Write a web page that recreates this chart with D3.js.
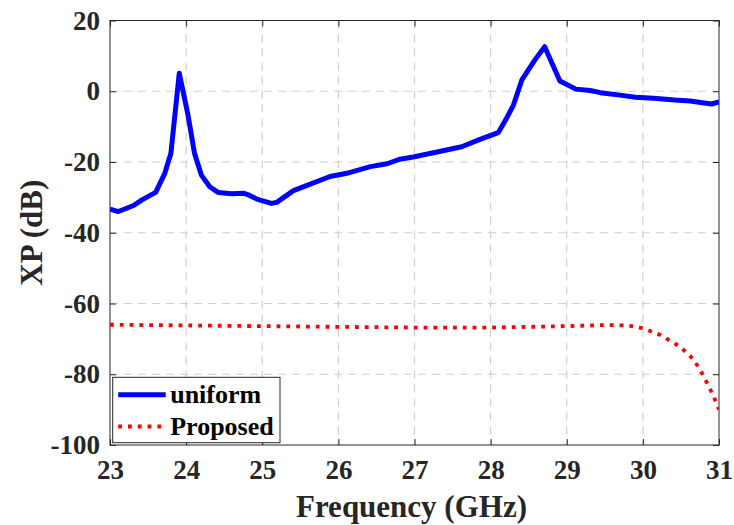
<!DOCTYPE html>
<html>
<head>
<meta charset="utf-8">
<script src="https://cdn.jsdelivr.net/npm/d3@7"></script>
<style>
  body { margin: 0; background: #fff; }
</style>
</head>
<body>
<svg id="chart" width="734" height="525"></svg>
<script>
// Uniform array curve
const uniformFreq = [23.0, 23.11, 23.31, 23.42, 23.6, 23.72, 23.8, 23.91, 24.02, 24.11, 24.2, 24.31, 24.42, 24.6, 24.75, 24.82, 24.93, 25.12, 25.19, 25.41, 25.58, 25.89, 26.11, 26.42, 26.64, 26.81, 27.0, 27.42, 27.62, 27.86, 28.1, 28.2, 28.3, 28.41, 28.58, 28.71, 28.91, 29.12, 29.31, 29.44, 29.7, 29.9, 30.14, 30.42, 30.62, 30.9, 31.0];
const uniformXP = [-33.3, -34.0, -32.3, -30.7, -28.6, -23.2, -17.5, 5.1, -6.2, -17.5, -23.7, -27.0, -28.6, -29.0, -28.8, -29.3, -30.5, -31.7, -31.4, -28.1, -26.7, -24.1, -23.2, -21.3, -20.5, -19.2, -18.5, -16.6, -15.7, -13.6, -11.7, -8.0, -3.9, 3.2, 8.8, 12.6, 2.9, 0.6, 0.2, -0.4, -1.1, -1.7, -2.0, -2.5, -2.75, -3.6, -3.0];

// Proposed design curve
const proposedFreq = [23.0, 24.0, 25.0, 26.0, 27.0, 28.0, 29.0, 29.5, 29.8, 30.0, 30.23, 30.49, 30.67, 30.8, 30.93, 31.0];
const proposedXP = [-66.0, -66.2, -66.4, -66.6, -66.8, -66.8, -66.4, -66.1, -66.2, -67.0, -68.9, -72.2, -75.9, -80.6, -86.3, -90.0];

const xTicks = [23, 24, 25, 26, 27, 28, 29, 30, 31];
const yTicks = [-100, -80, -60, -40, -20, 0, 20];

const FONT = "'Times New Roman', 'Liberation Serif', Tinos, serif";

function drawChart() {
  const margin = { top: 20.5, right: 15, bottom: 80, left: 110 };
  const width = 734, height = 525;
  const innerW = width - margin.left - margin.right;
  const innerH = height - margin.top - margin.bottom;

  const svg = d3.select("#chart");
  const g = svg.append("g").attr("transform", `translate(${margin.left},${margin.top})`);

  const x = d3.scaleLinear().domain([23, 31]).range([0, innerW]);
  const y = d3.scaleLinear().domain([-100, 20]).range([innerH, 0]);

  // dashed grid
  g.append("g").selectAll("line").data(xTicks.slice(1, -1)).join("line")
    .attr("x1", d => x(d)).attr("x2", d => x(d))
    .attr("y1", 0).attr("y2", innerH)
    .attr("stroke", "#d0d0d0").attr("stroke-width", 1.2).attr("stroke-dasharray", "8,6");
  g.append("g").selectAll("line").data(yTicks.slice(1, -1)).join("line")
    .attr("y1", d => y(d)).attr("y2", d => y(d))
    .attr("x1", 0).attr("x2", innerW)
    .attr("stroke", "#d0d0d0").attr("stroke-width", 1.2).attr("stroke-dasharray", "8,6");

  // axes with inward ticks on all four sides
  const axisStyle = sel => {
    sel.attr("font-family", FONT).attr("font-weight", "bold").attr("font-size", 27);
    sel.select(".domain").remove();
    sel.selectAll(".tick line").attr("stroke", "#262626");
    sel.selectAll(".tick text").attr("fill", "#262626");
  };
  const fmt = d => String(d); // plain hyphen, like the original

  g.append("g").attr("transform", `translate(0,${innerH})`)
    .call(d3.axisBottom(x).tickValues(xTicks).tickFormat(fmt).tickSizeInner(-6).tickPadding(15))
    .call(axisStyle);
  g.append("g")
    .call(d3.axisTop(x).tickValues(xTicks).tickFormat("").tickSizeInner(-6))
    .call(axisStyle);
  g.append("g")
    .call(d3.axisLeft(y).tickValues(yTicks).tickFormat(fmt).tickSizeInner(-6).tickPadding(10))
    .call(axisStyle);
  g.append("g").attr("transform", `translate(${innerW},0)`)
    .call(d3.axisRight(y).tickValues(yTicks).tickFormat("").tickSizeInner(-6))
    .call(axisStyle);

  g.append("rect").attr("width", innerW).attr("height", innerH)
    .attr("fill", "none").attr("stroke", "#262626").attr("stroke-width", 1);

  // curves
  g.append("clipPath").attr("id", "clip").append("rect").attr("width", innerW).attr("height", innerH);
  const line = d3.line().x(d => x(d[0])).y(d => y(d[1]));

  g.append("path")
    .datum(d3.zip(proposedFreq, proposedXP))
    .attr("clip-path", "url(#clip)")
    .attr("d", line)
    .attr("fill", "none").attr("stroke", "#ff0000").attr("stroke-width", 3.8)
    .attr("stroke-dasharray", "3.8,6");

  g.append("path")
    .datum(d3.zip(uniformFreq, uniformXP))
    .attr("clip-path", "url(#clip)")
    .attr("d", line)
    .attr("fill", "none").attr("stroke", "#0000ff").attr("stroke-width", 5)
    .attr("stroke-linejoin", "round");

  // legend
  const legend = g.append("g").attr("transform", "translate(2.7,356.8)");
  legend.append("rect").attr("width", 167.3).attr("height", 65.4)
    .attr("fill", "#fff").attr("stroke", "#262626").attr("stroke-width", 1);
  const items = [
    { name: "uniform", color: "#0000ff", w: 5, dash: null },
    { name: "Proposed", color: "#ff0000", w: 3.8, dash: "3.8,6" }
  ];
  items.forEach((d, i) => {
    const ly = 17.5 + i * 31.7;
    legend.append("line").attr("x1", 5.5).attr("x2", 53).attr("y1", ly).attr("y2", ly)
      .attr("stroke", d.color).attr("stroke-width", d.w).attr("stroke-dasharray", d.dash);
    legend.append("text").attr("x", 57.5).attr("y", ly + 8.5)
      .attr("font-family", FONT).attr("font-weight", "bold").attr("font-size", 26)
      .attr("fill", "#000").text(d.name);
  });

  // axis titles
  svg.append("text").attr("x", margin.left + innerW / 2 - 3).attr("y", 517)
    .attr("text-anchor", "middle")
    .attr("font-family", FONT).attr("font-weight", "bold").attr("font-size", 31)
    .attr("fill", "#262626").text("Frequency (GHz)");
  svg.append("text")
    .attr("transform", `translate(42,${margin.top + innerH / 2}) rotate(-90)`)
    .attr("text-anchor", "middle")
    .attr("font-family", FONT).attr("font-weight", "bold").attr("font-size", 31)
    .attr("fill", "#262626").text("XP (dB)");
}

drawChart();
</script>
</body>
</html>
